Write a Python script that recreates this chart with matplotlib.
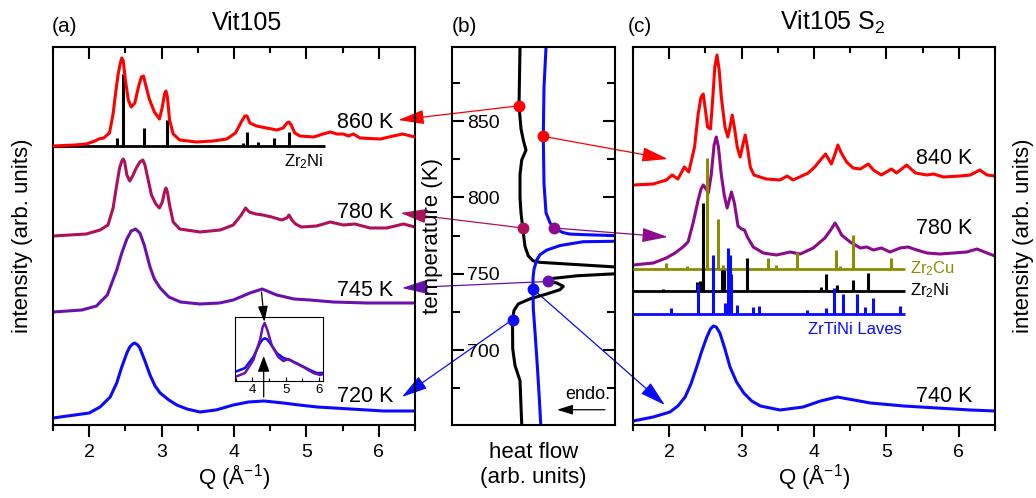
import matplotlib.pyplot as plt
from matplotlib.patches import ConnectionPatch

plt.rcParams['font.family'] = ['Liberation Sans', 'DejaVu Sans']
plt.rcParams['mathtext.fontset'] = 'custom'
plt.rcParams['mathtext.rm'] = 'Liberation Sans'
plt.rcParams['mathtext.default'] = 'regular'

# colours
red = '#ff0000'
crimson = '#b0105a'
violet = '#6a10b0'
purple = '#8c0a8c'
blue = '#0a0aff'
olive = '#8c8c00'

# ---- (a) Vit105, intensities in arb. units (stacked) ----
q_860 = [1.50, 1.80, 1.96, 2.08, 2.13, 2.20, 2.28, 2.33, 2.37, 2.40, 2.43, 2.45, 2.47, 2.50, 2.54, 2.58,
         2.63, 2.68, 2.72, 2.75, 2.78, 2.83, 2.90, 2.97, 3.01, 3.04, 3.06, 3.08, 3.11, 3.16, 3.25, 3.48,
         3.71, 3.90, 4.02, 4.10, 4.15, 4.18, 4.22, 4.31, 4.45, 4.59, 4.68, 4.73, 4.76, 4.79, 4.84, 4.91,
         5.10, 5.23, 5.33, 5.42, 5.51, 5.58, 5.65, 5.74, 6.02, 6.20, 6.33, 6.50]
i_860 = [279, 280, 281, 284, 286, 287, 292, 311, 335, 351, 362, 367, 364, 345, 325, 318,
         322, 338, 348, 349, 340, 326, 313, 306, 318, 331, 334, 328, 305, 291, 285, 283,
         284, 286, 292, 303, 309, 309, 302, 299, 297, 295, 297, 302, 303, 300, 292, 289,
         288, 291, 293, 291, 291, 289, 291, 287, 286, 289, 291, 288]

q_780a = [1.50, 1.96, 2.15, 2.26, 2.33, 2.38, 2.42, 2.45, 2.47, 2.49, 2.52, 2.56, 2.60, 2.65, 2.70, 2.74,
          2.77, 2.80, 2.86, 2.92, 2.97, 3.01, 3.04, 3.06, 3.08, 3.11, 3.16, 3.25, 3.53, 3.81, 3.99, 4.10,
          4.16, 4.21, 4.30, 4.40, 4.52, 4.66, 4.73, 4.76, 4.80, 4.85, 4.93, 5.14, 5.33, 5.51, 5.67, 5.88,
          6.11, 6.34, 6.50]
i_780a = [189, 191, 195, 200, 217, 240, 257, 264, 266, 263, 250, 244, 249, 257, 263, 265,
          260, 250, 230, 221, 217, 223, 233, 237, 233, 220, 203, 196, 193, 195, 200, 210,
          217, 213, 211, 210, 208, 205, 207, 210, 205, 201, 198, 199, 203, 200, 201, 197,
          197, 201, 198]

q_745 = [1.5, 1.9, 2.1, 2.25, 2.38, 2.45, 2.52, 2.58, 2.64, 2.70, 2.76, 2.84, 2.90, 2.98, 3.10, 3.26,
         3.53, 3.80, 3.99, 4.22, 4.39, 4.59, 4.83, 5.05, 5.37, 5.84, 6.5]
i_745 = [113, 115, 119, 130, 155, 172, 186, 194, 196, 192, 180, 158, 146, 137, 128, 123,
         121, 122, 125, 132, 136, 130, 126, 125, 123, 122, 122]

q_720 = [1.5, 2.0, 2.15, 2.29, 2.38, 2.45, 2.52, 2.56, 2.60, 2.63, 2.67, 2.70, 2.77, 2.84, 2.91, 2.98,
         3.1, 3.21, 3.35, 3.53, 3.75, 3.99, 4.2, 4.41, 4.55, 4.68, 4.9, 5.15, 5.61, 6.07, 6.5]
i_720 = [7, 12, 18, 28, 42, 58, 72, 78, 81, 82, 80, 77, 64, 50, 39, 32,
         25, 20, 16, 13, 15, 20, 23, 24, 23, 22, 20, 18, 16, 14, 14]

# Zr2Ni reference sticks for (a)
zr2ni_a_q = [2.39, 2.47, 2.75, 3.07, 3.66, 3.90, 4.12, 4.18, 4.33, 4.55, 4.76, 5.17]
zr2ni_a_h = [8, 72, 18, 26, 1, 1, 3, 14, 4, 8, 14, 1]

# inset: 720 K vs 745 K around the second maximum
q_in_720 = [3.48, 3.78, 4.03, 4.23, 4.31, 4.38, 4.45, 4.53, 4.73, 4.93, 5.13, 5.43, 5.73, 5.93, 6.13]
i_in_720 = [9, 13, 24, 38, 41.5, 42.7, 41.5, 38, 28, 23, 21, 16, 11, 8, 8]
q_in_745 = [3.48, 3.78, 4.03, 4.23, 4.31, 4.37, 4.45, 4.58, 4.78, 4.93, 5.08, 5.23, 5.53, 5.83, 6.03, 6.13]
i_in_745 = [4, 8, 21, 41, 54, 58, 51, 36, 24, 20, 22, 19, 14, 8, 6, 7]

# ---- (b) DSC ----
x_black = [68, 67, 69, 71.3, 74, 69.7, 68, 68, 69, 70.7, 73, 76.3, 81, 88, 118, 163, 175, 175, 163, 125,
           101, 96.3, 104.7, 111.3, 108, 94.7, 78, 66.3, 62, 60.5, 60.7, 63, 68, 69.7]
t_black = [898, 860, 845, 837.5, 831, 824.5, 815, 800, 790, 780, 768, 761.7, 758.5, 757.5, 756.3, 754.5,
           754, 750.5, 750, 748.7, 747, 745, 744, 741.8, 739.6, 736.8, 733.6, 730.3, 726, 720, 701,
           690, 680, 652]
x_blue = [94, 92, 91.3, 92, 94, 98, 102, 111, 118, 138, 163, 175, 175, 163, 131, 108, 94.7, 88, 84.7,
          82, 81, 81, 81.3, 83, 85.3, 87.3, 88.7]
t_blue = [898, 872, 840, 809, 790, 783.4, 780, 777, 776, 775.5, 775, 774.8, 771.5, 771.3, 771, 768.5,
          765.5, 762.5, 759, 753, 747, 740, 727, 712, 690, 668.6, 652]

# ---- (c) Vit105 S2 ----
q_840 = [1.5, 1.78, 1.96, 2.04, 2.12, 2.21, 2.27, 2.35, 2.40, 2.44, 2.47, 2.50, 2.53, 2.57, 2.60, 2.63,
         2.66, 2.69, 2.72, 2.77, 2.81, 2.84, 2.87, 2.90, 2.94, 2.98, 3.02, 3.05, 3.08, 3.12, 3.17, 3.34,
         3.53, 3.63, 3.71, 3.92, 4.01, 4.10, 4.16, 4.20, 4.24, 4.29, 4.33, 4.37, 4.45, 4.54, 4.64, 4.75,
         4.82, 4.93, 5.07, 5.14, 5.28, 5.40, 5.56, 5.65, 5.79, 6.02, 6.16, 6.29, 6.39, 6.50]
i_840 = [240, 241, 245, 250, 246, 258, 253, 278, 311, 328, 331, 315, 298, 296, 325, 358,
         370, 355, 328, 298, 288, 298, 310, 298, 278, 268, 281, 290, 278, 258, 250, 246,
         245, 249, 245, 252, 258, 266, 271, 266, 261, 271, 280, 273, 263, 257, 256, 261,
         255, 250, 256, 252, 260, 252, 250, 251, 248, 249, 250, 255, 250, 249]

q_780c = [1.5, 1.78, 1.96, 2.08, 2.19, 2.26, 2.33, 2.40, 2.44, 2.47, 2.51, 2.54, 2.58, 2.62, 2.65, 2.68,
          2.72, 2.76, 2.80, 2.83, 2.86, 2.90, 2.95, 3.00, 3.04, 3.08, 3.16, 3.30, 3.48, 3.67, 3.81, 3.99,
          4.15, 4.24, 4.29, 4.34, 4.38, 4.50, 4.64, 4.73, 4.82, 4.93, 5.05, 5.19, 5.30, 5.42, 5.56, 5.74,
          5.93, 6.11, 6.25, 6.39, 6.50]
i_780c = [160, 162, 167, 172, 178, 183, 202, 225, 236, 240, 236, 232, 250, 280, 288, 278,
          250, 230, 217, 225, 233, 222, 199, 196, 195, 188, 178, 172, 170, 173, 171, 177,
          187, 196, 202, 196, 190, 183, 177, 178, 175, 177, 173, 177, 178, 175, 172, 171,
          172, 173, 176, 172, 169]

q_740 = [1.5, 1.78, 2.01, 2.12, 2.22, 2.30, 2.38, 2.45, 2.52, 2.57, 2.61, 2.65, 2.70, 2.77, 2.84, 2.93,
         3.03, 3.14, 3.26, 3.53, 3.85, 4.09, 4.32, 4.55, 4.78, 5.24, 5.70, 6.16, 6.5]
i_740 = [4, 8, 13, 19, 28, 41, 58, 74, 88, 96, 99, 98, 92, 76, 58, 43,
         32, 24, 19, 15, 18, 24, 28, 25, 22, 19, 17, 15, 14]

# reference phases for (c)
zr2cu_q = [1.96, 2.24, 2.52, 2.67, 2.74, 3.36, 3.48, 3.77, 4.30, 4.36, 4.54, 5.06]
zr2cu_h = [6, 3, 111, 50, 4, 11, 4, 17, 19, 3, 34, 11]
zr2ni_c_q = [1.92, 2.38, 2.42, 2.46, 2.73, 2.76, 3.07, 3.87, 4.10, 4.16, 4.32, 4.54, 4.75]
zr2ni_c_h = [2, 9, 10, 88, 21, 21, 33, 1.5, 4, 17, 6, 11, 18]
laves_q = [2.02, 2.40, 2.60, 2.77, 2.81, 2.84, 2.86, 2.93, 3.16, 3.24, 3.91, 4.16, 4.28, 4.40, 4.60,
           4.70, 4.81, 5.19]
laves_h = [6, 30, 59, 11, 66, 59, 40, 9, 7, 8, 4, 6, 26, 20, 20, 7, 16, 8]

# ---- figure ----
W, H = 1036, 498
fig = plt.figure(figsize=(W / 100, H / 100), dpi=100)


def box(l, t, r, b):
    return [l / W, 1 - b / H, (r - l) / W, (b - t) / H]


axa = fig.add_axes(box(53, 47, 415, 425))
axb = fig.add_axes(box(452, 47, 615, 425))
axc = fig.add_axes(box(633, 47, 995, 425))
ins = fig.add_axes(box(235, 317, 323, 381))
for ax in (axa, axb, axc, ins):
    ax.set_facecolor('none')
for ax in (axa, axb, axc):
    for s in ax.spines.values():
        s.set_linewidth(1.5)

lw = 2.2


def sticks(ax, q, h, base, qend, color):
    ax.plot([1.5, qend], [base, base], color=color, lw=2, solid_capstyle='butt', zorder=3)
    ax.vlines(q, base, [base + v for v in h], color=color, lw=2.2, zorder=3)


# (a)
sticks(axa, zr2ni_a_q, zr2ni_a_h, 279, 5.26, 'black')
axa.plot(q_860, i_860, color=red, lw=lw, zorder=4)
axa.plot(q_780a, i_780a, color=crimson, lw=lw)
axa.plot(q_745, i_745, color=violet, lw=lw)
axa.plot(q_720, i_720, color=blue, lw=lw)
axa.text(5.23, 263, 'Zr$_2$Ni', fontsize=12, ha='right', va='center')
for lab, yy in [('860 K', 303), ('780 K', 213), ('745 K', 135), ('720 K', 28)]:
    axa.text(6.2, yy, lab, fontsize=15.5, ha='right', va='center')
axa.annotate('', xy=(4.42, 103), xytext=(4.38, 133),
             arrowprops=dict(arrowstyle='-|>,head_length=0.8,head_width=0.25', mutation_scale=12,
                             color='black', lw=0.9, shrinkA=0, shrinkB=0))
axa.annotate('', xy=(4.41, 69), xytext=(4.41, 28),
             arrowprops=dict(arrowstyle='-|>,head_length=0.8,head_width=0.3', mutation_scale=12,
                             color='black', lw=0.9, shrinkA=0, shrinkB=0))

# inset
ins.plot(q_in_720, i_in_720, color=blue, lw=1.8)
ins.plot(q_in_745, i_in_745, color=violet, lw=1.8)
ins.set_xlim(3.48, 6.12)
ins.set_ylim(0, 64)
ins.set_yticks([])
ins.set_xticks([4, 5, 6])
ins.set_xticks([3.5, 4.5, 5.5], minor=True)
ins.tick_params(axis='x', which='major', direction='in', length=3, width=0.8, labelsize=9.5, pad=2)
ins.tick_params(axis='x', which='minor', direction='in', length=2, width=0.8)
for s in ins.spines.values():
    s.set_linewidth(0.8)

# (b)
axb.plot(x_black, t_black, color='black', lw=lw)
axb.plot(x_blue, t_blue, color=blue, lw=lw)
axb.set_xlim(0, 163)
axb.set_ylim(651, 898.5)
axb.set_xticks([])
axb.set_yticks([700, 750, 800, 850])
axb.set_yticks([675, 725, 775, 825, 875], minor=True)
axb.tick_params(axis='y', which='major', direction='in', left=True, right=True, length=8.5, width=1.5,
                labelsize=14, pad=-10.6)
axb.tick_params(axis='y', which='minor', direction='in', left=True, right=True, length=5.5, width=1.5)
for lbl in axb.get_yticklabels():
    lbl.set_horizontalalignment('left')
axb.set_ylabel('temperature (K)', fontsize=16, va='center')
axb.yaxis.set_label_coords(-0.117, 0.5)
axb.set_xlabel('heat flow\n(arb. units)', fontsize=16, labelpad=12, linespacing=1.25)
axb.text(158, 671, 'endo.', fontsize=13, ha='right', va='center')
axb.annotate('', xy=(105, 661), xytext=(153, 661),
             arrowprops=dict(arrowstyle='-|>,head_length=0.8,head_width=0.25', mutation_scale=12,
                             color='black', lw=0.9, shrinkA=0, shrinkB=0))

# (c)
axc.plot(q_780c, i_780c, color=purple, lw=lw)
axc.plot(q_840, i_840, color=red, lw=lw)
axc.plot(q_740, i_740, color=blue, lw=lw)
sticks(axc, zr2cu_q, zr2cu_h, 156, 5.26, olive)
sticks(axc, zr2ni_c_q, zr2ni_c_h, 134, 5.26, 'black')
sticks(axc, laves_q, laves_h, 111, 5.26, blue)
axc.text(5.33, 156, 'Zr$_2$Cu', fontsize=12, color=olive, ha='left', va='center')
axc.text(5.33, 134, 'Zr$_2$Ni', fontsize=12, color='black', ha='left', va='center')
axc.text(5.22, 95, 'ZrTiNi Laves', fontsize=12, color=blue, ha='right', va='center')
for lab, yy in [('840 K', 267), ('780 K', 197), ('740 K', 29)]:
    axc.text(6.19, yy, lab, fontsize=15.5, ha='right', va='center')

# common axes styling for the diffraction panels
major_q = [2, 3, 4, 5, 6]
minor_q = [1.5, 2.5, 3.5, 4.5, 5.5, 6.5]
for ax in (axa, axc):
    ax.set_xlim(1.5, 6.5)
    ax.set_ylim(0, 378)
    ax.set_yticks([])
    ax.set_xticks(major_q)
    ax.set_xticks(minor_q, minor=True)
    ax.tick_params(axis='x', which='major', direction='out', length=8.5, width=1.5, labelsize=14, pad=5)
    ax.tick_params(axis='x', which='minor', direction='out', length=4.5, width=1.5)
    ax.set_xlabel('Q (Å$^{-1}$)', fontsize=16, labelpad=1)
    # inward tick marks along the top edge (axes-fraction lengths: 11.8 px and 6.2 px of 378 px)
    xt = ax.get_xaxis_transform()
    ax.vlines(major_q, 1 - 11.8 / 378, 1, transform=xt, color='black', lw=1.5, clip_on=False)
    ax.vlines(minor_q, 1 - 6.2 / 378, 1, transform=xt, color='black', lw=1.5, clip_on=False)
axa.set_ylabel('intensity (arb. units)', fontsize=16, va='center')
axa.yaxis.set_label_coords(-0.083, 0.5)
axc.yaxis.set_label_position('right')
axc.set_ylabel('intensity (arb. units)', fontsize=16, va='center', rotation=90)
axc.yaxis.set_label_coords(1.08, 0.5)

# titles and panel letters
fig.text(52 / W, 1 - 32 / H, '(a)', fontsize=15, ha='left', va='baseline')
fig.text(452 / W, 1 - 32 / H, '(b)', fontsize=15, ha='left', va='baseline')
fig.text(628 / W, 1 - 32 / H, '(c)', fontsize=15, ha='left', va='baseline')
fig.text(247 / W, 1 - 30 / H, 'Vit105', fontsize=18, ha='center', va='baseline')
fig.text(833 / W, 1 - 30 / H, 'Vit105 S$_2$', fontsize=18, ha='center', va='baseline')

# DSC points linked to the diffraction patterns
links = [
    (67, 860, red, axa, 6.27, 305),
    (91.3, 840, red, axc, 1.98, 266),
    (70.7, 780, crimson, axa, 6.30, 212),
    (102, 780, purple, axc, 1.98, 188),
    (96.3, 745, violet, axa, 6.32, 137),
    (81, 740, blue, axc, 1.94, 20),
    (60.5, 720, blue, axa, 6.32, 28),
]
for xb, tb, col, target, qt, it in links:
    con = ConnectionPatch(xyA=(xb, tb), coordsA=axb.transData, xyB=(qt, it), coordsB=target.transData,
                          arrowstyle='-|>,head_length=1.0,head_width=0.28', mutation_scale=16,
                          color=col, lw=0.9, shrinkA=0, shrinkB=0, zorder=-1)
    fig.add_artist(con)
    axb.plot(xb, tb, 'o', color=col, ms=7.5, zorder=5, clip_on=False)

fig.savefig('out.png', dpi=100)
